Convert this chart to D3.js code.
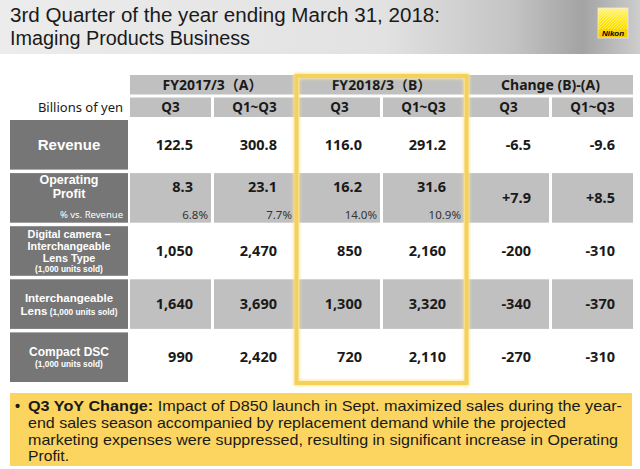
<!DOCTYPE html>
<html><head><meta charset="utf-8">
<script src="https://cdn.jsdelivr.net/npm/d3@7"></script>
<style>html,body{margin:0;padding:0;background:#fff;} svg{display:block;}</style>
</head><body>
<svg id="c" width="640" height="469"></svg>
<script>
// ---------- data ----------
const titleLines = ["3rd Quarter of the year ending March 31, 2018:", "Imaging Products Business"];
const groups = ["FY2017/3（A）", "FY2018/3（B）", "Change (B)-(A)"];
const periods = ["Q3", "Q1~Q3"];
const unitLabel = "Billions of yen";
const rowKeys = ["revenue", "op", "dc", "il", "cd"];
const revenue = [122.5, 300.8, 116.0, 291.2, -6.5, -9.6];
const operatingProfit = [8.3, 23.1, 16.2, 31.6, 7.9, 8.5];
const opMargin = [6.8, 7.7, 14.0, 10.9];
const digitalCameraILT = [1050, 2470, 850, 2160, -200, -310];
const interchangeableLens = [1640, 3690, 1300, 3320, -340, -370];
const compactDSC = [990, 2420, 720, 2110, -270, -310];
const noteBold = "Q3 YoY Change:";
const noteLines = [
  " Impact of D850 launch in Sept. maximized sales during the year-",
  "end sales season accompanied by replacement demand while the projected",
  "marketing expenses were suppressed, resulting in significant increase in Operating",
  "Profit."
];

// ---------- setup ----------
const W = 640, H = 469;
const svg = d3.select("#c");
const FONT = "'Noto Sans','Noto Sans CJK JP',sans-serif";
const LFONT = "'Liberation Sans',Arial,sans-serif";
const dark = "#1a1a1a", cellGray = "#c0c0c0", labelGray = "#767676", yellow = "#f6d15a";
const fixMinus = s => s.replace(/\u2212/g, "-");

const defs = svg.append("defs");
const hg = defs.append("linearGradient").attr("id", "hdr").attr("x1", 0).attr("x2", 1).attr("y1", 0).attr("y2", 0);
[[0, "#ececec"], [0.6, "#e2e2e2"], [0.8, "#c4c4c4"], [0.91, "#a3a3a3"], [1, "#cdcdcd"]]
  .forEach(([o, c]) => hg.append("stop").attr("offset", o).attr("stop-color", c));
const lg = defs.append("linearGradient").attr("id", "logo").attr("x1", 0).attr("x2", 0).attr("y1", 0).attr("y2", 1);
[[0, "#fff27a"], [0.5, "#ffe400"], [1, "#f4c800"]].forEach(([o, c]) => lg.append("stop").attr("offset", o).attr("stop-color", c));
defs.append("clipPath").attr("id", "logoClip").append("rect").attr("width", 30).attr("height", 21);
defs.append("filter").attr("id", "glow").attr("x", "-10%").attr("y", "-10%").attr("width", "120%").attr("height", "120%")
  .append("feGaussianBlur").attr("stdDeviation", 1.5);

// header band
svg.append("rect").attr("width", W).attr("height", 54).attr("fill", "url(#hdr)");
svg.selectAll("text.title").data(titleLines).join("text").attr("class", "title")
  .attr("x", 10).attr("y", (d, i) => 22 + i * 23)
  .attr("font-family", LFONT).attr("font-size", 20).attr("fill", dark)
  .text(d => d)
  .attr("textLength", (d, i) => [430, 240][i]).attr("lengthAdjust", "spacingAndGlyphs");

// Nikon logo
const logo = svg.append("g").attr("transform", "translate(598,8)");
logo.append("rect").attr("width", 30).attr("height", 30).attr("fill", "url(#logo)").attr("stroke", "#e8e8e8").attr("stroke-width", 0.8);
const streaks = logo.append("g").attr("clip-path", "url(#logoClip)");
d3.range(-20, 40, 3).forEach(k => streaks.append("line").attr("x1", k).attr("y1", 24).attr("x2", k + 24).attr("y2", 0)
  .attr("stroke", "#fffbd0").attr("stroke-width", 0.7).attr("opacity", 0.8));
logo.append("text").attr("x", 15).attr("y", 28).attr("text-anchor", "middle").attr("font-family", LFONT)
  .attr("font-size", 8).attr("font-weight", "bold").attr("font-style", "italic").attr("fill", "#000").text("Nikon");

// ---------- scales ----------
const gx = d3.scaleBand().domain(groups).range([130, 633]).paddingInner(0.0237);
const px = d3.scaleBand().domain(periods).range([0, gx.bandwidth()]).paddingInner(3 / 84);
const cols = groups.flatMap(g => periods.map(p => ({ g, p })));
const colX = i => gx(cols[i].g) + px(cols[i].p);
const colW = px.bandwidth();
const hy = d3.scaleBand().domain(["group", "period"]).range([75, 117]).paddingInner(3 / 22.5);
const ry = d3.scaleBand().domain(rowKeys).range([120, 382]).paddingInner(0.066);
const rc = k => ry(k) + ry.bandwidth() / 2;

// ---------- header ----------
svg.selectAll("rect.gh").data(groups).join("rect").attr("class", "gh")
  .attr("x", d => gx(d)).attr("y", hy("group")).attr("width", gx.bandwidth()).attr("height", hy.bandwidth()).attr("fill", cellGray);
svg.selectAll("text.gh").data(groups).join("text").attr("class", "gh")
  .attr("x", d => gx(d) + gx.bandwidth() / 2).attr("y", hy("group") + hy.bandwidth() / 2).attr("dy", "0.36em")
  .attr("text-anchor", "middle").attr("font-family", FONT).attr("font-weight", "bold").attr("font-size", 14).attr("fill", dark)
  .text(d => d);
svg.selectAll("rect.ph").data(cols).join("rect").attr("class", "ph")
  .attr("x", (d, i) => colX(i)).attr("y", hy("period")).attr("width", colW).attr("height", hy.bandwidth()).attr("fill", cellGray);
svg.selectAll("text.ph").data(cols).join("text").attr("class", "ph")
  .attr("x", (d, i) => colX(i) + colW / 2).attr("y", hy("period") + hy.bandwidth() / 2).attr("dy", "0.36em")
  .attr("text-anchor", "middle").attr("font-family", FONT).attr("font-weight", "bold").attr("font-size", 13.5).attr("fill", dark)
  .text(d => d.p);
svg.append("text").attr("x", 123).attr("y", hy("period") + hy.bandwidth() / 2).attr("dy", "0.36em")
  .attr("text-anchor", "end").attr("font-family", FONT).attr("font-size", 13).attr("fill", dark).text(unitLabel);

// ---------- row labels ----------
svg.selectAll("rect.rl").data(rowKeys).join("rect").attr("class", "rl")
  .attr("x", 10).attr("y", d => ry(d)).attr("width", 118).attr("height", ry.bandwidth()).attr("fill", labelGray);
const labelSpec = {
  revenue: [{ t: "Revenue", dy: 0, s: 15 }],
  op: [{ t: "Operating", dy: -18, s: 12.5 }, { t: "Profit", dy: -4, s: 12.5 }],
  dc: [{ t: "Digital camera –", dy: -17, s: 10.8 }, { t: "Interchangeable", dy: -5, s: 10.8 }, { t: "Lens Type", dy: 7, s: 10.8 }, { t: "(1,000 units sold)", dy: 18.5, s: 8.3 }],
  il: [{ t: "Interchangeable", dy: -6, s: 11.5 }, { t: "Lens", small: " (1,000 units sold)", dy: 6.5, s: 11.5 }],
  cd: [{ t: "Compact DSC", dy: -5.5, s: 12 }, { t: "(1,000 units sold)", dy: 6.5, s: 8.3 }]
};
rowKeys.forEach(k => {
  labelSpec[k].forEach(l => {
    const t = svg.append("text").attr("x", 69).attr("y", rc(k) + l.dy).attr("dy", "0.36em").attr("text-anchor", "middle")
      .attr("font-family", LFONT).attr("font-weight", "bold").attr("font-size", l.s).attr("fill", "#fff");
    t.append("tspan").text(l.t);
    if (l.small) t.append("tspan").attr("font-size", 8.3).text(l.small);
  });
});
svg.append("text").attr("x", 123).attr("y", rc("op") + 16.5).attr("dy", "0.36em").attr("text-anchor", "end")
  .attr("font-family", FONT).attr("font-size", 9.5).attr("fill", "#fff").text("% vs. Revenue");

// ---------- data cells ----------
const grayRows = new Set(["op", "il"]);
cols.forEach((c, i) => {
  rowKeys.forEach(k => {
    if (grayRows.has(k)) svg.append("rect").attr("x", colX(i)).attr("y", ry(k)).attr("width", colW).attr("height", ry.bandwidth()).attr("fill", cellGray);
  });
});
const fmt1 = d3.format(".1f"), fmtS = d3.format("+.1f"), fmtC = d3.format(",");
const rowsData = [
  { k: "revenue", v: revenue, f: (v, i) => fixMinus(fmt1(v)) },
  { k: "op", v: operatingProfit, f: (v, i) => i >= 4 ? fmtS(v) : fmt1(v), dy: i => i >= 4 ? 0 : -11.5 },
  { k: "dc", v: digitalCameraILT, f: v => fixMinus(fmtC(v)) },
  { k: "il", v: interchangeableLens, f: v => fixMinus(fmtC(v)) },
  { k: "cd", v: compactDSC, f: v => fixMinus(fmtC(v)) }
];
rowsData.forEach(r => {
  svg.selectAll(null).data(r.v).join("text")
    .attr("x", (d, i) => colX(i) + colW - 18).attr("y", (d, i) => rc(r.k) + (r.dy ? r.dy(i) : 0)).attr("dy", "0.36em")
    .attr("text-anchor", "end").attr("font-family", FONT).attr("font-weight", "bold").attr("font-size", 14.5).attr("fill", dark)
    .text((d, i) => r.f(d, i));
});
svg.selectAll("text.pct").data(opMargin).join("text").attr("class", "pct")
  .attr("x", (d, i) => colX(i) + colW - 3).attr("y", rc("op") + 16.5).attr("dy", "0.36em")
  .attr("text-anchor", "end").attr("font-family", FONT).attr("font-size", 11.5).attr("fill", "#333")
  .text(d => fmt1(d) + "%");

// ---------- highlight box ----------
const bx = gx(groups[1]) - 2.5, bw = gx.bandwidth() + 5;
svg.append("rect").attr("x", bx).attr("y", 76).attr("width", bw).attr("height", 307)
  .attr("fill", "none").attr("stroke", "#fbe7a0").attr("stroke-width", 6).attr("filter", "url(#glow)");
svg.append("rect").attr("x", bx).attr("y", 76).attr("width", bw).attr("height", 307)
  .attr("fill", "none").attr("stroke", yellow).attr("stroke-width", 4);

// ---------- note box ----------
svg.append("rect").attr("x", 10).attr("y", 393).attr("width", 622).attr("height", 73).attr("fill", "#fbd55f");
svg.append("text").attr("x", 15).attr("y", 411).attr("font-family", LFONT).attr("font-size", 14.5).attr("font-weight", "bold").attr("fill", dark).text("•");
const noteW = [594, 538, 590, 41];
noteLines.forEach((l, i) => {
  const t = svg.append("text").attr("x", 28).attr("y", 411 + i * 16.8).attr("font-family", LFONT).attr("font-size", 14.5).attr("fill", dark);
  if (i === 0) t.append("tspan").attr("font-weight", "bold").text(noteBold);
  t.append("tspan").text(l);
  t.attr("textLength", noteW[i]).attr("lengthAdjust", "spacingAndGlyphs");
});
</script>
</body></html>
